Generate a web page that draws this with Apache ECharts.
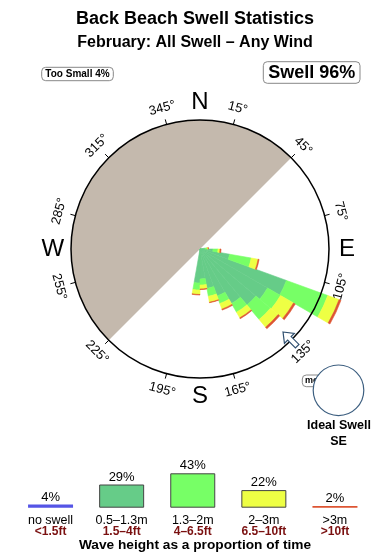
<!DOCTYPE html>
<html><head><meta charset="utf-8">
<script src="https://cdn.jsdelivr.net/npm/echarts@6/dist/echarts.min.js"></script>
<style>html,body{margin:0;padding:0;background:#fff}#c{width:390px;height:560px}</style>
</head><body><div id="c"></div>
<script>
const FONT = '"Liberation Sans", Arial, Helvetica, sans-serif';

// ---- Rose data: 10-degree direction bins, radial length of each height band (circle radius = 12.9 units)
const directions = [85, 95, 105, 115, 125, 135, 145, 155, 165, 175, 185];
const band05to13 = [0.5, 1.3, 3.0, 9.2, 7.8, 7.3, 6.3, 5.0, 4.0, 3.0, 3.4];
const band13to2  = [0.2, 0.5, 2.2, 4.4, 1.5, 1.9, 1.0, 0.8, 0.8, 0.6, 0.7];
const band2to3   = [0.1, 0.2, 0.7, 1.2, 1.5, 1.0, 0.65, 0.6, 0.6, 0.4, 0.45];
const bandOver3  = [0.05, 0.1, 0.1, 0.2, 0.2, 0.2, 0.1, 0.1, 0.05, 0.05, 0.05];

// ---- Legend (proportion of time)
const legendCats = ['no swell', '0.5–1.3m', '1.3–2m', '2–3m', '>3m'];
const legendFeet = ['<1.5ft', '1.5–4ft', '4–6.5ft', '6.5–10ft', '>10ft'];
const legendPct  = [4, 29, 43, 22, 2];

// ---- Frame
const tickBearings = [15, 45, 75, 105, 135, 165, 195, 225, 255, 285, 315, 345];
const compassNames = ['N', 'E', 'S', 'W'];
const compassBearings = [0, 90, 180, 270];
const landFrom = 225, landTo = 45;  // shaded sector, clockwise
const idealSwellBearing = 135;
const idealSwellName = 'SE';
const tooSmallPct = 4;
const swellPct = 96;

const COLORS = ['#5555e6', '#66cc88', '#77ff66', '#eeff44', '#dd5533'];

const binCenters = [];
for (let a = 5; a < 360; a += 10) binCenters.push(a);
function toBins(arr) {
  return binCenters.map(c => { const i = directions.indexOf(c); return i < 0 ? 0 : arr[i]; });
}

const CX = 200, CY = 249;
const chart = echarts.init(document.getElementById('c'), null, {renderer: 'canvas'});

const landSweep = ((landTo - landFrom) + 360) % 360;

const roseBands = [band05to13, band13to2, band2to3, bandOver3];
const roseSeries = roseBands.map((b, k) => ({
  type: 'bar', coordinateSystem: 'polar', polarIndex: 1, stack: 'rose',
  data: toBins(b), barCategoryGap: '0%', barGap: '0%', silent: true, z: 3,
  itemStyle: {color: COLORS[k + 1], borderColor: COLORS[k + 1], borderWidth: 0.6}
}));

const option = {
  animation: false,
  textStyle: {fontFamily: FONT},
  polar: [
    {center: [CX, CY], radius: 129},
    {center: [CX, CY], radius: 160}
  ],
  angleAxis: [
    {polarIndex: 0, type: 'value', min: 0, max: 360, startAngle: 90, clockwise: true, z: 10,
     axisLine: {show: true, lineStyle: {color: '#000', width: 1.5}},
     axisTick: {show: false}, axisLabel: {show: false}, splitLine: {show: false}},
    {polarIndex: 1, type: 'category', data: binCenters, startAngle: 90, clockwise: true,
     boundaryGap: true, show: false, axisLine: {show: false}, axisTick: {show: false},
     axisLabel: {show: false}, splitLine: {show: false}}
  ],
  radiusAxis: [
    {polarIndex: 0, type: 'value', min: 0, max: 100, show: false,
     axisLine: {show: false}, axisTick: {show: false}, axisLabel: {show: false}, splitLine: {show: false}},
    {polarIndex: 1, type: 'value', min: 0, max: 16, show: false,
     axisLine: {show: false}, axisTick: {show: false}, axisLabel: {show: false}, splitLine: {show: false}}
  ],
  grid: {left: 15, width: 355.5, bottom: 52.3, height: 40},
  xAxis: {
    type: 'category', data: legendCats,
    axisLine: {show: false}, axisTick: {show: false},
    axisLabel: {
      interval: 0, margin: 7,
      formatter: (v, i) => '{a|' + v + '}\n{b|' + legendFeet[i] + '}',
      rich: {
        a: {fontFamily: FONT, fontSize: 12.5, color: '#000', lineHeight: 12},
        b: {fontFamily: FONT, fontSize: 12, fontWeight: 'bold', color: '#7a1010', lineHeight: 10.5}
      }
    }
  },
  yAxis: {type: 'value', min: 0, max: 50, show: false, splitLine: {show: false}},
  series: [
    {
      type: 'pie', center: [CX, CY], radius: [0, 129], startAngle: 90 - landFrom, clockwise: true,
      silent: true, z: 1, label: {show: false}, labelLine: {show: false},
      emphasis: {disabled: true}, animation: false,
      data: [
        {value: landSweep, itemStyle: {color: '#c4b9ad', borderWidth: 0}},
        {value: 360 - landSweep, itemStyle: {color: 'rgba(0,0,0,0)', borderWidth: 0}}
      ]
    },
    ...roseSeries,
    {
      type: 'custom', coordinateSystem: 'polar', polarIndex: 0, silent: true, z: 11,
      data: tickBearings.map(b => [100, b]),
      renderItem: (params, api) => {
        const b = api.value(1);
        const p0 = api.coord([100, b]), p1 = api.coord([104, b]), pl = api.coord([113, b]);
        const rot = (b > 90 && b < 270) ? (180 - b) : -b;
        return {type: 'group', children: [
          {type: 'line', shape: {x1: p0[0], y1: p0[1], x2: p1[0], y2: p1[1]}, style: {stroke: '#000', lineWidth: 1}},
          {type: 'text', x: pl[0], y: pl[1], rotation: rot * Math.PI / 180,
           style: {text: b + '°', font: '13px ' + FONT, fill: '#000', align: 'center', verticalAlign: 'middle'}}
        ]};
      }
    },
    {
      type: 'custom', coordinateSystem: 'polar', polarIndex: 0, silent: true, z: 11,
      data: compassBearings.map((b, i) => [114, b, compassNames[i]]),
      renderItem: (params, api) => {
        const i = params.dataIndex;
        const p = api.coord([114, compassBearings[i]]);
        return {type: 'text', x: p[0], y: p[1],
          style: {text: compassNames[i], font: '24px ' + FONT, fill: '#000', align: 'center', verticalAlign: 'middle'}};
      }
    },
    {
      type: 'custom', coordinateSystem: 'polar', polarIndex: 0, silent: true, z: 12,
      data: [[98, idealSwellBearing]],
      renderItem: (params, api) => {
        const b = api.value(1);
        const p = api.coord([98, b]);
        const inward = (b + 180) * Math.PI / 180;
        const ux = Math.sin(inward), uy = -Math.cos(inward); // direction toward centre
        const vx = -uy, vy = ux;
        const pts = [[9, 0], [0, 7], [0, 2.5], [-11, 2.5], [-11, -2.5], [0, -2.5], [0, -7]]
          .map(q => [p[0] + ux * q[0] + vx * q[1], p[1] + uy * q[0] + vy * q[1]]);
        return {type: 'polygon', shape: {points: pts}, style: {fill: '#fff', stroke: '#2f4f6f', lineWidth: 1.2}};
      }
    },
    {
      type: 'bar', barWidth: 45, silent: true, z: 3,
      data: legendPct.map((v, i) => ({
        value: v,
        itemStyle: {color: COLORS[i], borderColor: (i === 0 || i === 4) ? COLORS[i] : '#444', borderWidth: (i === 0 || i === 4) ? 0 : 1}
      })),
      label: {show: true, position: 'top', distance: 1, formatter: '{c}%', fontFamily: FONT, fontSize: 13, color: '#000'}
    }
  ],
  graphic: [
    {type: 'text', x: 195, y: 19, style: {text: 'Back Beach Swell Statistics', font: 'bold 18px ' + FONT, fill: '#000', align: 'center', verticalAlign: 'middle'}},
    {type: 'text', x: 195, y: 43, style: {text: 'February: All Swell – Any Wind', font: 'bold 16px ' + FONT, fill: '#000', align: 'center', verticalAlign: 'middle'}},
    {type: 'rect', shape: {x: 41.7, y: 67.3, width: 71.6, height: 13.4, r: 4}, style: {fill: '#fff', stroke: '#888', lineWidth: 1}},
    {type: 'text', x: 77.5, y: 74.2, style: {text: 'Too Small ' + tooSmallPct + '%', font: 'bold 10px ' + FONT, fill: '#000', align: 'center', verticalAlign: 'middle'}},
    {type: 'rect', shape: {x: 263.3, y: 61.7, width: 96.7, height: 21.6, r: 4}, style: {fill: '#fff', stroke: '#888', lineWidth: 1}},
    {type: 'text', x: 311.7, y: 72.7, style: {text: 'Swell ' + swellPct + '%', font: 'bold 18px ' + FONT, fill: '#000', align: 'center', verticalAlign: 'middle'}},
    {type: 'rect', z: 1, shape: {x: 302.3, y: 375, width: 28, height: 11.7, r: 4}, style: {fill: '#fff', stroke: '#888', lineWidth: 1}},
    {type: 'text', z: 1, x: 305, y: 381, style: {text: 'mean', font: 'bold 9px ' + FONT, fill: '#000', align: 'left', verticalAlign: 'middle'}},
    {type: 'circle', z: 5, shape: {cx: 338.5, cy: 390.3, r: 25.3}, style: {fill: '#fff', stroke: '#3d5f80', lineWidth: 1.2}},
    {type: 'text', x: 339, y: 425.5, style: {text: 'Ideal Swell', font: 'bold 12.5px ' + FONT, fill: '#000', align: 'center', verticalAlign: 'middle'}},
    {type: 'text', x: 338.5, y: 441.5, style: {text: idealSwellName, font: 'bold 12.5px ' + FONT, fill: '#000', align: 'center', verticalAlign: 'middle'}},
    {type: 'text', x: 195, y: 545, style: {text: 'Wave height as a proportion of time', font: 'bold 13.7px ' + FONT, fill: '#000', align: 'center', verticalAlign: 'middle'}}
  ]
};
chart.setOption(option);
</script>
</body></html>
